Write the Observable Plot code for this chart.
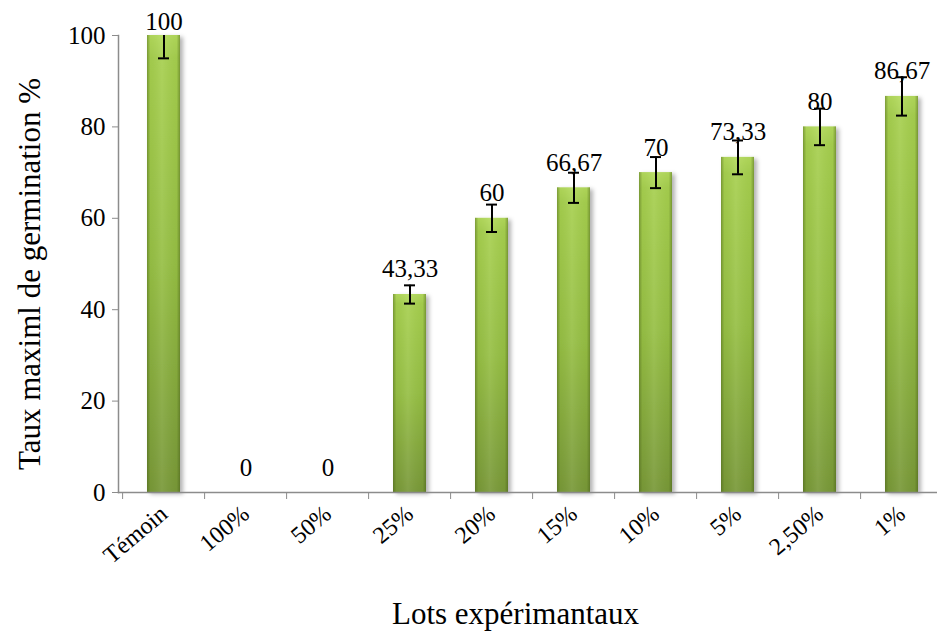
<!DOCTYPE html>
<html>
<head>
<meta charset="utf-8">
<script src="https://cdn.jsdelivr.net/npm/d3@7"></script>
<script src="https://cdn.jsdelivr.net/npm/@observablehq/plot@0.6"></script>
<style>
  html, body { margin: 0; padding: 0; background: #fff; }
  svg { overflow: hidden; }
  svg, svg text { font-family: "Liberation Serif", "DejaVu Serif", "Times New Roman", serif !important; }
</style>
</head>
<body>
<div id="chart"></div>
<script>
const categories = ["Témoin", "100%", "50%", "25%", "20%", "15%", "10%", "5%", "2,50%", "1%"];
const values = [100, 0, 0, 43.33, 60, 66.67, 70, 73.33, 80, 86.67];
const errors = [5, 0, 0, 2, 3, 3.3, 3.4, 3.7, 4, 4.2];
const valueLabels = ["100", "0", "0", "43,33", "60", "66,67", "70", "73,33", "80", "86,67"];
const yTicks = [0, 20, 40, 60, 80, 100];
const xTitle = "Lots expérimantaux";
const yTitle = "Taux maximl de germination %";

const data = categories.map((c, i) => ({cat: c, v: values[i], e: errors[i], label: valueLabels[i]}));
const withErr = data.filter(d => d.e > 0);
const inside = data.filter(d => d.v < 95);
const atTop = data.filter(d => d.v >= 95);

const chart = Plot.plot({
  width: 937,
  height: 635,
  marginTop: 35,
  marginBottom: 143,
  marginLeft: 118,
  marginRight: -9,
  style: {fontSize: "25px", color: "#000", background: "#fff"},
  x: {domain: categories, paddingInner: 0.6, paddingOuter: 0.3},
  y: {domain: [0, 100]},
  marks: [
    Plot.barY(data, {x: "cat", y: "v", fill: "url(#gv)"}),
    Plot.barY(data, {x: "cat", y: "v", fill: "url(#gh)"}),
    Plot.ruleX(withErr, {x: "cat", y1: d => d.v - d.e, y2: d => d.v + d.e, stroke: "#000", strokeWidth: 2, clip: true}),
    Plot.tickY(withErr, {x: "cat", y: d => d.v - d.e, stroke: "#000", strokeWidth: 2, insetLeft: 11, insetRight: 11, clip: true}),
    Plot.tickY(withErr, {x: "cat", y: d => d.v + d.e, stroke: "#000", strokeWidth: 2, insetLeft: 11, insetRight: 11, clip: true}),
    Plot.text(inside, {x: "cat", y: "v", text: "label", dy: -25, fontSize: 25, fill: "#000"}),
    Plot.text(atTop, {x: "cat", y: "v", text: "label", dy: -14, fontSize: 25, fill: "#000"}),
    Plot.frame({anchor: "left", stroke: "#8c8c8c", strokeWidth: 1.5}),
    Plot.frame({anchor: "bottom", stroke: "#8c8c8c", strokeWidth: 1.5}),
    Plot.axisY({ticks: yTicks, tickSize: 6, tickPadding: 7, stroke: "#8c8c8c", fontSize: 25, label: null}),
    Plot.axisX({tickSize: 7, dx: -41.4, tickFormat: () => "", stroke: "#8c8c8c", label: null}),
    Plot.axisX({tickSize: 0, tickRotate: -40, tickPadding: 18, fontSize: 24, label: null}),
    Plot.text([yTitle], {frameAnchor: "left", textAnchor: "middle", rotate: -90, dx: -88, dy: 10, fontSize: 31, fill: "#000"}),
    Plot.text([xTitle], {frameAnchor: "bottom", dx: -17, dy: 131, fontSize: 31, fill: "#000"})
  ]
});

// gradients and shadow for the bevelled bars
const ns = "http://www.w3.org/2000/svg";
const defs = document.createElementNS(ns, "defs");
defs.innerHTML = `
  <linearGradient id="gv" x1="0" y1="0" x2="0" y2="1">
    <stop offset="0" stop-color="#b3da5c"/>
    <stop offset="0.05" stop-color="#a6cf4f"/>
    <stop offset="0.5" stop-color="#96bf44"/>
    <stop offset="1" stop-color="#789838"/>
  </linearGradient>
  <linearGradient id="gh" x1="0" y1="0" x2="1" y2="0">
    <stop offset="0" stop-color="#3d5212" stop-opacity="0.45"/>
    <stop offset="0.1" stop-color="#3d5212" stop-opacity="0.05"/>
    <stop offset="0.45" stop-color="#ffffff" stop-opacity="0.08"/>
    <stop offset="0.9" stop-color="#3d5212" stop-opacity="0.05"/>
    <stop offset="1" stop-color="#3d5212" stop-opacity="0.45"/>
  </linearGradient>
  <filter id="sh" x="-20%" y="-5%" width="150%" height="115%">
    <feDropShadow dx="3" dy="2" stdDeviation="2" flood-color="#000" flood-opacity="0.3"/>
  </filter>`;
chart.insertBefore(defs, chart.firstChild);
const bars = chart.querySelectorAll('g[aria-label="bar"]');
if (bars.length) bars[0].setAttribute("filter", "url(#sh)");

document.getElementById("chart").appendChild(chart);
</script>
</body>
</html>
